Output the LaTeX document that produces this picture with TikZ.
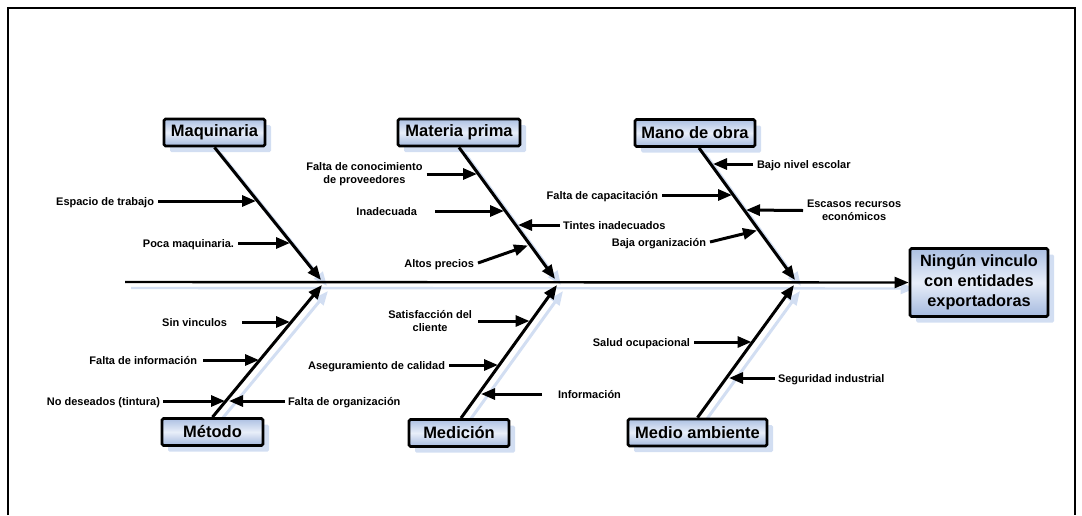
\documentclass[tikz,border=0pt]{standalone}
\usepackage{fontspec}
\setmainfont{Liberation Sans}
\usetikzlibrary{arrows.meta,shadows,backgrounds}
\definecolor{shadowblue}{RGB}{210,222,242}
\definecolor{boxtop}{RGB}{172,192,226}
\definecolor{boxmid}{RGB}{232,238,249}
\definecolor{boxbot}{RGB}{164,185,222}

\begin{document}
\begin{tikzpicture}[x=1pt,y=-1pt,
  tip/.style={-{Triangle[length=14pt,width=11pt]}},
  bone/.style={tip,line width=3pt},
  spine/.style={tip,line width=2.4pt},
  cause/.style={tip,line width=3pt},
  lbl/.style={font=\bfseries\fontsize{11}{13}\selectfont,inner sep=0pt,
    outer xsep=4pt,outer ysep=0pt,align=center},
  oneline/.style={text height=8pt,text depth=0pt},
  catbox/.style={draw,line width=2.8pt,rounded corners=1.5pt,
    top color=boxtop,bottom color=boxbot,middle color=boxmid,
    font=\bfseries\fontsize{16.5}{20}\selectfont,inner sep=0pt,
    drop shadow={shadow xshift=6pt,shadow yshift=-6pt,fill=shadowblue,opacity=1}},
]
\useasboundingbox (0,0) rectangle (1082,515);

% outer frame
\draw[line width=1.8pt] (8,515) -- (8,8) -- (1075,8) -- (1075,515);

% effect and category boxes
\node[catbox,minimum width=138pt,minimum height=68pt,align=center,
      font=\bfseries\fontsize{16.3}{20}\selectfont]
  (effect) at (979,282.5) {Ningún vinculo\\con entidades\\exportadoras};
\node[catbox,minimum width=101pt,minimum height=27pt] (maq)   at (214.5,132.5) {Maquinaria};
\node[catbox,minimum width=122pt,minimum height=27pt] (mat)   at (459,132.5)   {Materia prima};
\node[catbox,minimum width=120pt,minimum height=27pt] (mano)  at (695,133)     {Mano de obra};
\node[catbox,minimum width=101pt,minimum height=27pt] (met)   at (212.5,432)   {Método};
\node[catbox,minimum width=100pt,minimum height=27pt] (med)   at (459,433)     {Medición};
\node[catbox,minimum width=139pt,minimum height=27pt] (amb)   at (697.5,432.5) {Medio ambiente};

% ends of spine and bones
\coordinate (spinestart) at (125,282);
\coordinate (jmaq) at (321,280);
\coordinate (jmat) at (555,279);
\coordinate (jmano) at (795,280);
\coordinate (jmet) at (322,285);
\coordinate (jmed) at (557,285);
\coordinate (jamb) at (794,285);

% light blue shadows of spine and bones
\begin{pgfonlayer}{background}
\begin{scope}[transform canvas={xshift=6pt,yshift=-6pt},shadowblue]
  \draw[spine] (spinestart) -- (effect.west);
  \draw[bone] (maq.south) -- (jmaq);
  \draw[bone] (mat.south) -- (jmat);
  \draw[bone] ([xshift=4pt]mano.south) -- (jmano);
  \draw[bone] (met.north) -- (jmet);
  \draw[bone] ([xshift=2pt]med.north) -- (jmed);
  \draw[bone] (amb.north) -- (jamb);
\end{scope}
\end{pgfonlayer}

% spine and bones
\draw[spine] (spinestart) -- (effect.west);
\draw[bone] (maq.south) -- (jmaq);
\draw[bone] (mat.south) -- (jmat);
\draw[bone] ([xshift=4pt]mano.south) -- (jmano);
\draw[bone] (met.north) -- (jmet);
\draw[bone] ([xshift=2pt]med.north) -- (jmed);
\draw[bone] (amb.north) -- (jamb);

% Maquinaria
\node[lbl,oneline,anchor=east] (c1) at (158,201) {Espacio de trabajo};
\node[lbl,oneline,anchor=east] (c2) at (238,243) {Poca maquinaria.};
\coordinate (t1) at (256,201);
\coordinate (t2) at (290,243);
\draw[cause] (c1.east) -- (t1);
\draw[cause] (c2.east) -- (t2);

% Materia prima
\node[lbl,anchor=east] (c3) at (426.5,174) {Falta de conocimiento\\de proveedores};
\node[lbl,oneline,anchor=east,outer xsep=18pt] (c4) at (435,211) {Inadecuada};
\node[lbl,oneline,anchor=west,outer xsep=3pt] (c5) at (560,225) {Tintes inadecuados};
\node[lbl,oneline,anchor=east] (c6) at (478,263) {Altos precios};
\coordinate (t3) at (477,174);
\coordinate (t4) at (504,211);
\coordinate (t5) at (518,225);
\coordinate (t6) at (528,245.5);
\draw[cause] (c3.east) -- (t3);
\draw[cause] (c4.east) -- (t4);
\draw[cause] (c5.west) -- (t5);
\draw[cause] (c6.east) -- (t6);

% Mano de obra
\node[lbl,oneline,anchor=west] (c7) at (753,164) {Bajo nivel escolar};
\node[lbl,oneline,anchor=east] (c8) at (662,195) {Falta de capacitación};
\node[lbl,anchor=west] (c9) at (803,210.5) {Escasos recursos\\económicos};
\node[lbl,oneline,anchor=east] (c10) at (710,242) {Baja organización};
\coordinate (t7) at (713,164);
\coordinate (t8) at (732,195);
\coordinate (t9) at (746,210);
\coordinate (t10) at (757,230.5);
\draw[cause] (c7.west) -- (t7);
\draw[cause] (c8.east) -- (t8);
\draw[cause] (c9.west) -- (t9);
\draw[cause] (c10.east) -- (t10);

% Método
\node[lbl,oneline,anchor=east,outer xsep=15pt] (c11) at (242,322) {Sin vinculos};
\node[lbl,oneline,anchor=east,outer xsep=6pt] (c12) at (203,360) {Falta de información};
\node[lbl,oneline,anchor=east,outer xsep=3pt] (c13) at (163,401) {No deseados (tintura)};
\node[lbl,oneline,anchor=west,outer xsep=3pt] (c14) at (285,401) {Falta de organización};
\coordinate (t11) at (290,322);
\coordinate (t12) at (259,360);
\coordinate (t13) at (225,401);
\coordinate (t14) at (229,401);
\draw[cause] (c11.east) -- (t11);
\draw[cause] (c12.east) -- (t12);
\draw[cause] (c13.east) -- (t13);
\draw[cause] (c14.west) -- (t14);

% Medición
\node[lbl,anchor=east,outer xsep=6pt] (c15) at (478,321) {Satisfacción del\\cliente};
\node[lbl,oneline,anchor=east] (c16) at (449,365) {Aseguramiento de calidad};
\node[lbl,oneline,anchor=west,outer xsep=16pt] (c17) at (542,394) {Información};
\coordinate (t15) at (529.5,321);
\coordinate (t16) at (498,365);
\coordinate (t17) at (481,394);
\draw[cause] (c15.east) -- (t15);
\draw[cause] (c16.east) -- (t16);
\draw[cause] (c17.west) -- (t17);

% Medio ambiente
\node[lbl,oneline,anchor=east] (c18) at (694,342) {Salud ocupacional};
\node[lbl,oneline,anchor=west,outer xsep=3.5pt] (c19) at (774.5,378) {Seguridad industrial};
\coordinate (t18) at (751.5,342);
\coordinate (t19) at (729,378);
\draw[cause] (c18.east) -- (t18);
\draw[cause] (c19.west) -- (t19);
\end{tikzpicture}
\end{document}
